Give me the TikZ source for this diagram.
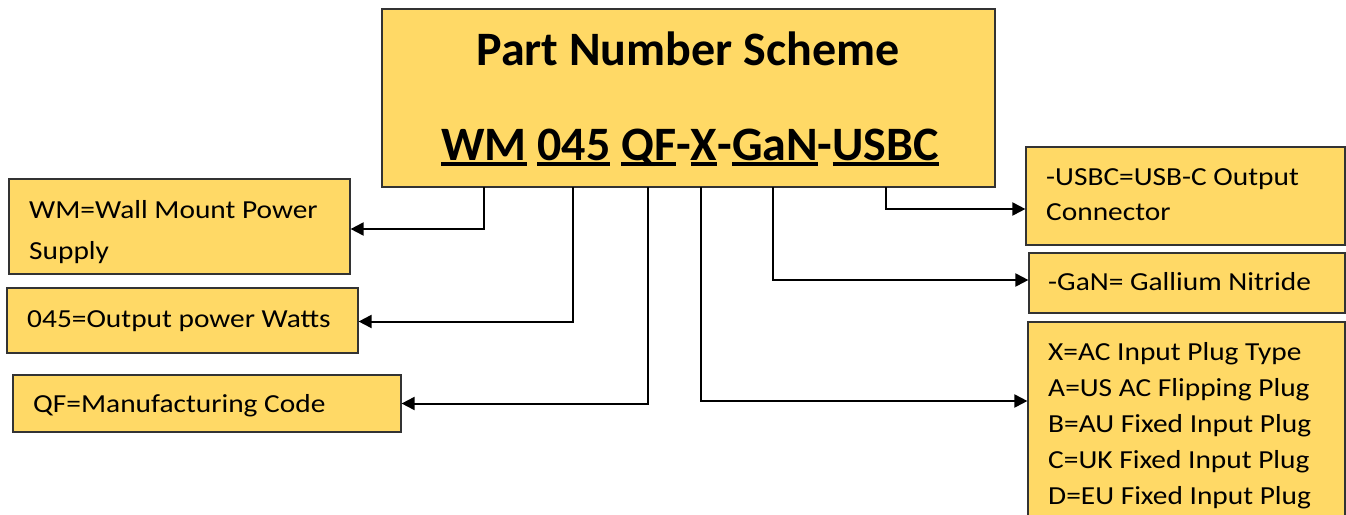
\documentclass[tikz,border=0pt]{standalone}
\usepackage{fontspec}
\setmainfont{Carlito}
\usetikzlibrary{arrows.meta}
\definecolor{gold}{HTML}{FFD966}
\definecolor{edge}{HTML}{333333}
\newcommand\myul[1]{\setbox0=\hbox{#1}\rlap{\rule[-6pt]{\wd0}{4pt}}\box0\relax}
\begin{document}
\begin{tikzpicture}[x=1pt,y=-1pt,
  box/.style={draw=edge, line width=1.2pt, fill=gold, inner sep=0pt},
  arr/.style={line width=2pt, -{Triangle[length=13pt,width=13pt]}},
  txt/.style={anchor=base west, inner sep=0pt, xscale=1.13, transform shape, font=\fontsize{26}{26}\selectfont},
  head/.style={anchor=base, inner sep=0pt, font=\bfseries\fontsize{48}{48}\selectfont}]
\useasboundingbox (0,0) rectangle (1346,514);
% boxes
\node[box, minimum width=613, minimum height=178] (main) at (688.5,98) {};
\node[box, minimum width=341, minimum height=95] (wm) at (179.5,226.5) {};
\node[box, minimum width=351, minimum height=65] (w045) at (182.5,320.5) {};
\node[box, minimum width=388, minimum height=57] (qf) at (207,403.5) {};
\node[box, minimum width=319, minimum height=98] (usbc) at (1185.5,196) {};
\node[box, minimum width=316, minimum height=60] (gan) at (1187,283) {};
\node[box, minimum width=317, minimum height=218] (xb) at (1186.5,431) {};
% title texts
\node[head] (title) at (688,65) {Part Number Scheme};
\node[head] (code) at (690,160) {\myul{WM} \myul{045} \myul{QF}-\myul{X}-\myul{GaN}-\myul{USBC}};
% box texts
\node[txt] (wm1) at (29,218) {WM=Wall Mount Power};
\node[txt] (wm2) at (29,259) {Supply};
\node[txt] (t045) at (27,327) {045=Output power Watts};
\node[txt] (tqf) at (33,412) {QF=Manufacturing Code};
\node[txt] (tu1) at (1046,185) {-USBC=USB-C Output};
\node[txt] (tu2) at (1046,220) {Connector};
\node[txt] (tg) at (1048,290) {-GaN= Gallium Nitride};
\node[txt] (tx1) at (1048,360) {X=AC Input Plug Type};
\node[txt] (tx2) at (1048,396) {A=US AC Flipping Plug};
\node[txt] (tx3) at (1048,432) {B=AU Fixed Input Plug};
\node[txt] (tx4) at (1048,468) {C=UK Fixed Input Plug};
\node[txt] (tx5) at (1048,504) {D=EU Fixed Input Plug};
% connector start points
\coordinate (pwm) at (484,187);
\coordinate (p045) at (573,187);
\coordinate (pqf) at (648,187);
\coordinate (px) at (701,187);
\coordinate (pgan) at (773,187);
\coordinate (pusbc) at (886,187);
% connectors
\draw[arr] (pwm) |- ([yshift=-2.5pt]wm.east);
\draw[arr] (p045) |- ([yshift=-1pt]w045.east);
\draw[arr] (pqf) |- (qf.east);
\draw[arr] (px) |- ([yshift=30pt]xb.west);
\draw[arr] (pgan) |- ([yshift=3pt]gan.west);
\draw[arr] (pusbc) |- ([yshift=-13pt]usbc.west);
\end{tikzpicture}
\end{document}
